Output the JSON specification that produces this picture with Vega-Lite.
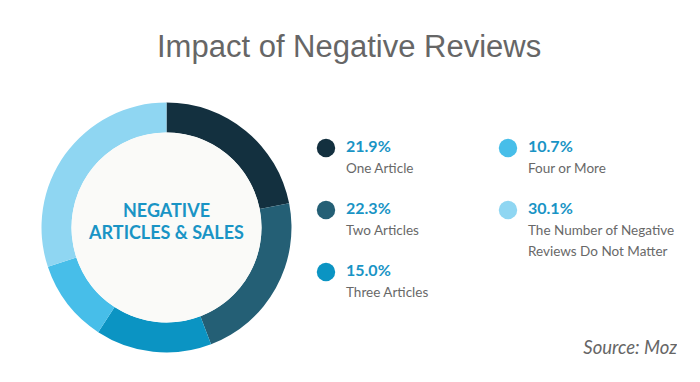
{
  "$schema": "https://vega.github.io/schema/vega-lite/v6.json",
  "background": "white",
  "padding": {"left": 41, "top": 32, "right": 0, "bottom": 0},
  "title": {
    "text": "Impact of Negative Reviews",
    "font": "Liberation Sans",
    "fontSize": 31,
    "fontWeight": "normal",
    "color": "#666666",
    "anchor": "start",
    "dx": 116,
    "offset": 38
  },
  "data": {
    "values": [
      {"category": "One Article", "label": "One Article", "value": 0.219},
      {"category": "Two Articles", "label": "Two Articles", "value": 0.223},
      {"category": "Three Articles", "label": "Three Articles", "value": 0.15},
      {"category": "Four or More", "label": "Four or More", "value": 0.107},
      {"category": "Do Not Matter", "label": "The Number of Negative\nReviews Do Not Matter", "value": 0.301}
    ]
  },
  "transform": [{"window": [{"op": "row_number", "as": "rank"}]}],
  "spacing": 18,
  "hconcat": [
    {
      "width": 251,
      "height": 251,
      "encoding": {
        "x": {"datum": 0, "type": "quantitative", "scale": {"domain": [-1, 1]}, "axis": null},
        "y": {"datum": 0, "type": "quantitative", "scale": {"domain": [-1, 1]}, "axis": null}
      },
      "layer": [
        {
          "mark": {"type": "arc", "outerRadius": 125, "innerRadius": 95},
          "encoding": {
            "theta": {"field": "value", "type": "quantitative", "stack": true},
            "color": {
              "field": "category",
              "type": "nominal",
              "scale": {
                "domain": ["One Article", "Two Articles", "Three Articles", "Four or More", "Do Not Matter"],
                "range": ["#13303f", "#245f75", "#0b94c3", "#47bee9", "#8fd6f2"]
              },
              "legend": null
            },
            "order": {"field": "rank", "type": "quantitative"}
          }
        },
        {
          "data": {"values": [{}]},
          "mark": {"type": "arc", "radius": 95, "theta": 0, "theta2": 6.2832, "fill": "#fafaf8"}
        },
        {
          "data": {"values": [{}]},
          "mark": {
            "type": "text",
            "text": ["NEGATIVE", "ARTICLES & SALES"],
            "font": "Lato",
            "fontWeight": "bold",
            "fontSize": 18,
            "fill": "#1994c5",
            "lineHeight": 22,
            "align": "center",
            "baseline": "middle",
            "dy": -16
          }
        }
      ]
    },
    {
      "width": 367,
      "height": 234,
      "title": {
        "text": "Source: Moz",
        "orient": "bottom",
        "anchor": "end",
        "font": "Lato",
        "fontStyle": "italic",
        "fontWeight": "normal",
        "fontSize": 18.5,
        "color": "#666666",
        "offset": 3
      },
      "transform": [
        {"calculate": "datum.rank <= 3 ? 0 : 1", "as": "col"},
        {"calculate": "datum.rank <= 3 ? datum.rank - 1 : datum.rank - 4", "as": "row"}
      ],
      "encoding": {
        "x": {"field": "col", "type": "quantitative", "scale": {"domain": [0, 1], "range": [16, 198]}, "axis": null},
        "y": {"field": "row", "type": "quantitative", "scale": {"domain": [0, 2], "range": [46, 170]}, "axis": null}
      },
      "layer": [
        {
          "mark": {"type": "point", "filled": true, "opacity": 1, "size": 340, "shape": "circle"},
          "encoding": {
            "color": {"field": "category", "type": "nominal", "legend": null}
          }
        },
        {
          "mark": {"type": "text", "align": "left", "baseline": "middle", "dx": 20, "dy": -1, "font": "Lato", "fontWeight": "bold", "fontSize": 16, "fill": "#1994c5"},
          "encoding": {
            "text": {"field": "value", "type": "quantitative", "format": ".1%"}
          }
        },
        {
          "mark": {"type": "text", "align": "left", "baseline": "middle", "dx": 20, "dy": 21, "font": "Lato", "fontWeight": "normal", "fontSize": 13.5, "fill": "#686868", "lineBreak": "\n", "lineHeight": 21},
          "encoding": {
            "text": {"field": "label", "type": "nominal"}
          }
        }
      ]
    }
  ],
  "config": {"view": {"stroke": null}}
}
